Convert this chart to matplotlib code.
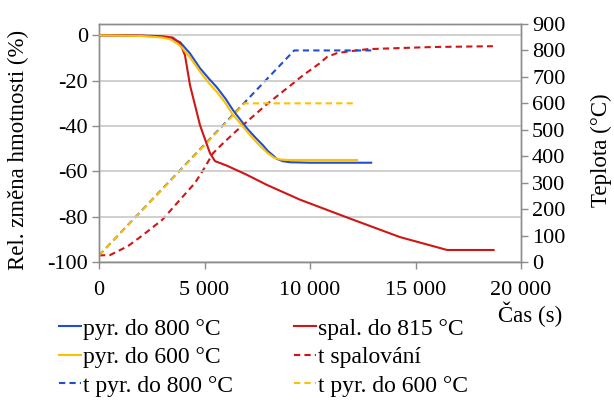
import matplotlib
matplotlib.use("Agg")
import matplotlib.pyplot as plt
from matplotlib.lines import Line2D

plt.rcParams['font.family'] = ['Liberation Serif', 'DejaVu Serif']
plt.rcParams['font.size'] = 16

# ---------------- data ----------------
# mass change (%) - left axis
t_pyr800 = [0, 1000, 2000, 2500, 3000, 3400, 3840, 4313, 4786, 5200, 5590, 6000, 6350,
            7010, 7400, 7770, 8000, 8250, 8430, 8700, 9050, 10000, 11000, 12000, 12900]
m_pyr800 = [0, 0, -0.2, -0.4, -0.7, -1.3, -3, -8, -14.5, -19, -23, -28, -33,
            -41, -45, -48.5, -51, -53, -54.5, -55.5, -56, -56.2, -56.2, -56.2, -56.2]

t_pyr600 = [0, 1000, 2000, 2500, 3000, 3400, 3840, 4313, 4786, 5200, 5590, 6000, 6300,
            6800, 7200, 7600, 8000, 8300, 8600, 9000, 10000, 11000, 12230]
m_pyr600 = [0, -0.1, -0.3, -0.6, -1.0, -1.8, -4.5, -9.7, -16, -21, -25, -30, -34.4,
            -40, -44.5, -48.5, -52, -54, -54.8, -55, -55, -55, -55]

t_spal = [0, 1000, 2000, 3000, 3500, 3840, 4075, 4313, 4786, 5260, 5500, 6060, 7000,
          7960, 9525, 11800, 14260, 16500, 18700]
m_spal = [0, 0, -0.1, -0.4, -1, -3.5, -8.8, -22, -39.6, -52, -55.5, -57.5, -61.5,
          -66, -72.5, -80.5, -89, -94.7, -94.7]

# temperature (°C) - right axis
t_T_spal = [0, 520, 1370, 2000, 2990, 3700, 4550, 5000, 5400, 5880, 6500, 7960, 9190,
            9620, 10470, 10800, 11280, 11900, 12750, 14260, 15830, 18670]
T_spal = [25, 26, 60, 97, 159, 223, 299, 356, 411, 449, 495, 597, 675,
          703, 752, 775, 790, 797, 805, 809, 813, 816]

t_T_pyr800 = [0, 9250, 12900]
T_pyr800 = [25, 800, 800]

t_T_pyr600 = [0, 6900, 12200]
T_pyr600 = [25, 600, 600]

x_ticks = [0, 5000, 10000, 15000, 20000]
x_ticklabels = ['0', '5 000', '10 000', '15 000', '20 000']
left_ticks = [-100, -80, -60, -40, -20, 0]
right_ticks = [0, 100, 200, 300, 400, 500, 600, 700, 800, 900]

labels = ['pyr. do 800 °C', 'pyr. do 600 °C', 't pyr. do 800 °C',
          'spal. do 815 °C', 't spalování', 't pyr. do 600 °C']

# ---------------- style ----------------
c_blue = '#1F4FD0'
c_yel = '#FFC000'
c_red = '#D01515'
spine_c = '#8C8C8C'
grid_c = '#C8C8C8'
lw = 1.5
dash = (0, (3, 2))

fig = plt.figure(figsize=(6.14, 4.01), dpi=100)
ax = fig.add_axes([99/614, 1-262/401, (521-99)/614, (262-24)/401])
ax2 = ax.twinx()

ax.plot(t_pyr800, m_pyr800, color=c_blue, lw=lw, zorder=3)
ax.plot(t_pyr600, m_pyr600, color=c_yel, lw=lw, zorder=4)
ax.plot(t_spal, m_spal, color=c_red, lw=lw, zorder=3)

ax2.plot(t_T_spal, T_spal, color=c_red, lw=lw, ls=dash)
ax2.plot(t_T_pyr800, T_pyr800, color=c_blue, lw=lw, ls=dash)
ax2.plot(t_T_pyr600, T_pyr600, color=c_yel, lw=lw, ls=dash)

ax.set_xlim(0, 20000)
ax.set_ylim(-100, 5)
ax2.set_ylim(0, 900)
ax.set_xticks(x_ticks)
ax.set_xticklabels(x_ticklabels)
ax.set_yticks(left_ticks)
ax.set_yticklabels([str(v) for v in left_ticks])
ax2.set_yticks(right_ticks)

for a in (ax, ax2):
    for s in a.spines.values():
        s.set_color(spine_c)
        s.set_linewidth(1.0)
    a.tick_params(colors=spine_c, labelcolor='black', length=5, width=1.0, labelsize=16)
ax.tick_params(axis='y', pad=3)
ax.tick_params(axis='x', pad=9)
ax2.tick_params(axis='y', pad=3)

ax.yaxis.grid(True, color=grid_c, lw=1.2)
ax.set_axisbelow(True)
ax.set_zorder(2)
ax.patch.set_visible(False)
ax2.set_zorder(1)

ax.set_ylabel('Rel. změna hmotnosti (%)', fontsize=16.5)
ax.yaxis.set_label_coords(-0.165, 0.47)
ax2.set_ylabel('Teplota (°C)', fontsize=16.5)
ax2.yaxis.set_label_coords(1.165, 0.47)

ax.set_xlabel('Čas (s)', fontsize=16.5)
xl = ax.xaxis.label
xl.set_va('center')
ax.xaxis.set_label_coords((530-99)/422, (262-314)/238)

handles = [Line2D([], [], color=c_blue, lw=lw),
           Line2D([], [], color=c_yel, lw=lw),
           Line2D([], [], color=c_blue, lw=lw, ls=dash),
           Line2D([], [], color=c_red, lw=lw),
           Line2D([], [], color=c_red, lw=lw, ls=dash),
           Line2D([], [], color=c_yel, lw=lw, ls=dash)]
fig.legend(handles, labels, ncol=2, loc='upper left',
           bbox_to_anchor=(59/614, 1-318/401), frameon=False,
           borderpad=0, borderaxespad=0, handlelength=0.95, handletextpad=0.05,
           columnspacing=2.6, labelspacing=0.3, fontsize=17)

fig.savefig('out.png', dpi=100)
